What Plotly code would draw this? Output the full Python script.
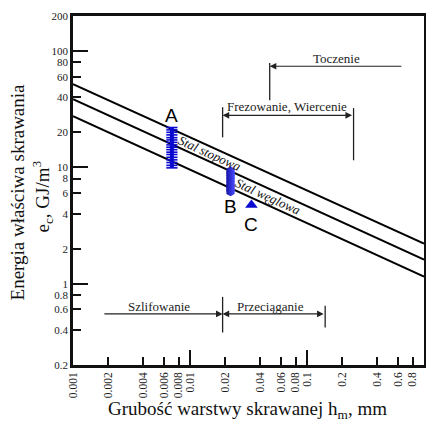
import numpy as np
import plotly.graph_objects as go

# ---------------- data ----------------
x_ticks = [0.001, 0.002, 0.004, 0.006, 0.008, 0.01, 0.02, 0.04, 0.06, 0.08,
           0.1, 0.2, 0.4, 0.6, 0.8, 1]
x_ticktext = ["0.001", "0.002", "0.004", "0.006", "0.008", "0.01", "0.02",
              "0.04", "0.06", "0.08", "0.1", "0.2", "0.4", "0.6", "0.8", "1"]
x_major = [0.01, 0.1]
y_ticks = [0.2, 0.4, 0.6, 0.8, 1, 2, 4, 6, 8, 10, 20, 40, 60, 80, 100, 200]
y_ticktext = ["0.2", "0.4", "0.6", "0.8", "1", "2", "4", "6", "8", "10",
              "20", "40", "60", "80", "100", "200"]
y_major = [1, 10, 100]

# three band lines (h_m, e_c)
line_x = [0.001, 1]
line_upper = [52, 2.21]
line_middle = [38.5, 1.61]
line_lower = [27.5, 1.15]

# material labels
steel_names = ["Stal stopowa", "Stal węglowa"]
steel_x = [0.0148, 0.0464]
steel_y = [13.1, 5.6]

# measured points
A_x = 0.0070
A_vals = [22, 21, 20, 19, 18, 17.2, 16.4, 15.6, 14.9, 14.2, 13.5, 12.9,
          12.2, 11.6, 11.0, 10.4, 9.9]
B_x = 0.0222
B_vals = [9.3, 8.8, 8.3, 7.8, 7.3, 6.9, 6.5, 6.2]
C_x = [0.0335]
C_vals = [4.75]
point_labels = ["A", "B", "C"]
point_label_x = [0.0070, 0.0222, 0.0335]
point_label_y = [28, 4.6, 3.2]

# machining process ranges: arrow from start to end (head at end)
proc_names = ["Toczenie", "Frezowanie, Wiercenie", "Szlifowanie", "Przeciąganie"]
proc_start = [0.66, 0.25, 0.0018, 0.143]
proc_end = [0.048, 0.019, 0.019, 0.019]
proc_level = [74, 28, 0.55, 0.55]
proc_double = [False, True, False, True]
proc_text_x = [0.18, 0.0675, 0.0054, 0.049]
proc_text_y = [86, 33.5, 0.64, 0.64]

# vertical range bounds
bound_x = [0.048, 0.019, 0.25, 0.019, 0.143]
bound_lo = [37.8, 18.1, 11.5, 0.38, 0.42]
bound_hi = [79, 32.9, 32.3, 0.77, 0.645]

x_title = "Grubość warstwy skrawanej h<sub>m</sub>, mm"
y_title_1 = "Energia właściwa skrawania"
y_title_2 = "e<sub>c</sub>, GJ/m<sup>3</sup>"

SERIF = "Liberation Serif, Times New Roman, serif"
BLUE = "#0a0ad0"

fig = go.Figure()

for yv in (line_upper, line_middle, line_lower):
    fig.add_trace(go.Scatter(x=line_x, y=yv, mode="lines",
                             line=dict(color="black", width=2),
                             hoverinfo="skip", showlegend=False))

for bx, lo, hi in zip(bound_x, bound_lo, bound_hi):
    fig.add_trace(go.Scatter(x=[bx, bx], y=[lo, hi], mode="lines",
                             line=dict(color="#222", width=1.3),
                             hoverinfo="skip", showlegend=False))

fig.add_trace(go.Scatter(x=[A_x] * len(A_vals), y=A_vals, mode="lines+markers",
                         line=dict(color=BLUE, width=4),
                         marker=dict(symbol="line-ew", size=8,
                                     line=dict(color=BLUE, width=1.6)),
                         showlegend=False))
fig.add_trace(go.Scatter(x=[B_x] * len(B_vals), y=B_vals, mode="markers",
                         marker=dict(symbol="hexagon", size=9.5, color="#1414a8",
                                     gradient=dict(type="horizontal", color="#4a4aff"),
                                     line=dict(width=0)),
                         showlegend=False))
fig.add_trace(go.Scatter(x=C_x, y=C_vals, mode="markers",
                         marker=dict(symbol="triangle-up", size=11, color=BLUE,
                                     line=dict(width=0)),
                         showlegend=False))

# invisible trace for overlay axes (long major ticks)
fig.add_trace(go.Scatter(x=[0.01], y=[1], mode="markers", xaxis="x2", yaxis="y2",
                         marker=dict(opacity=0), hoverinfo="skip", showlegend=False))

annotations = []
for name, sx, sy in zip(steel_names, steel_x, steel_y):
    annotations.append(dict(x=np.log10(sx), y=np.log10(sy), xref="x", yref="y",
                            text="<i>" + name + "</i>", showarrow=False,
                            textangle=24.5, font=dict(family=SERIF, size=13, color="#111")))
for t, tx, ty in zip(point_labels, point_label_x, point_label_y):
    annotations.append(dict(x=np.log10(tx), y=np.log10(ty), xref="x", yref="y",
                            text=t, showarrow=False,
                            font=dict(family="Liberation Sans, Arial, sans-serif",
                                      size=19, color="black")))
for name, s, e, lv, dbl, tx, ty in zip(proc_names, proc_start, proc_end, proc_level,
                                        proc_double, proc_text_x, proc_text_y):
    annotations.append(dict(x=np.log10(e), y=np.log10(lv), ax=np.log10(s), ay=np.log10(lv),
                            xref="x", yref="y", axref="x", ayref="y", text="",
                            showarrow=True, arrowhead=2, arrowsize=1.1, arrowwidth=1.2,
                            arrowcolor="#222",
                            arrowside="end+start" if dbl else "end",
                            startarrowhead=2, startarrowsize=1.1))
    annotations.append(dict(x=np.log10(tx), y=np.log10(ty), xref="x", yref="y",
                            text=name, showarrow=False,
                            font=dict(family=SERIF, size=13, color="#222")))

# axis titles
annotations.append(dict(x=0.496, y=-0.128, xref="paper", yref="paper", text=x_title,
                        showarrow=False, xanchor="center", yanchor="middle",
                        font=dict(family=SERIF, size=19, color="#111")))
annotations.append(dict(x=-0.157, y=0.497, xref="paper", yref="paper", text=y_title_1,
                        showarrow=False, xanchor="center", yanchor="middle", textangle=-90,
                        font=dict(family=SERIF, size=19, color="#111")))
annotations.append(dict(x=-0.087, y=0.484, xref="paper", yref="paper", text=y_title_2,
                        showarrow=False, xanchor="center", yanchor="middle", textangle=-90,
                        font=dict(family=SERIF, size=19, color="#111")))

fig.update_layout(
    width=426, height=421,
    margin=dict(l=73, r=2, t=16, b=56, autoexpand=False),
    paper_bgcolor="white", plot_bgcolor="white",
    showlegend=False,
    annotations=annotations,
    xaxis=dict(type="log", range=[-3, 0], tickvals=x_ticks, ticktext=x_ticktext,
               ticks="inside", ticklen=8, tickwidth=1.6, tickcolor="#111",
               tickangle=-90, tickfont=dict(family=SERIF, size=11.5, color="#1a1a1a"),
               showline=True, linecolor="#111", linewidth=2.5, mirror=True,
               showgrid=False, zeroline=False, automargin=False),
    yaxis=dict(type="log", range=[np.log10(0.2), np.log10(200)], tickvals=y_ticks,
               ticktext=y_ticktext, ticks="inside", ticklen=8, tickwidth=1.6,
               tickcolor="#111", tickfont=dict(family=SERIF, size=11, color="#1a1a1a"),
               showline=True, linecolor="#111", linewidth=2.5, mirror=True,
               showgrid=False, zeroline=False, automargin=False),
    xaxis2=dict(type="log", range=[-3, 0], overlaying="x", side="bottom", anchor="y2",
                tickvals=x_major, ticks="inside", ticklen=15, tickwidth=1.6,
                tickcolor="#111", showticklabels=False, showgrid=False,
                zeroline=False, showline=False, automargin=False),
    yaxis2=dict(type="log", range=[np.log10(0.2), np.log10(200)], overlaying="y",
                side="left", anchor="x2", tickvals=y_major, ticks="inside", ticklen=15,
                tickwidth=1.6, tickcolor="#111", showticklabels=False, showgrid=False,
                zeroline=False, showline=False, automargin=False),
)

fig.write_html("out.html", config={"displayModeBar": False},
               post_script="document.body.style.margin='0';document.body.style.padding='0';")
